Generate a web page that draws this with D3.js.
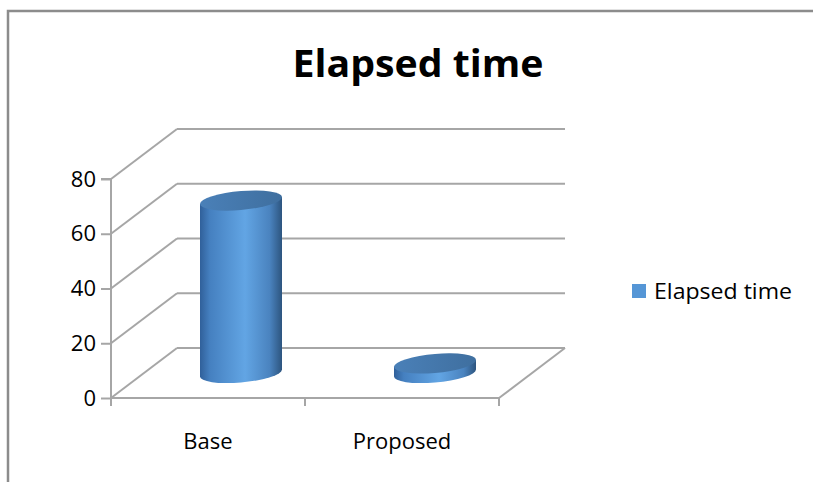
<!DOCTYPE html>
<html><head><meta charset="utf-8">
<script src="https://cdn.jsdelivr.net/npm/d3@7"></script>
<style>html,body{margin:0;padding:0;background:#fff;}svg{display:block;}</style>
</head><body>
<script>
const categories = ["Base", "Proposed"];
const values = [63, 3.5];
const seriesName = "Elapsed time";
const yTicks = [0, 20, 40, 60, 80];
const titleText = "Elapsed time";

const W = 813, H = 482;
const svg = d3.select("body").append("svg").attr("width", W).attr("height", H);
const defs = svg.append("defs");

// frame
svg.append("path").attr("d", `M8,${H+5} L8,11 L${W+5},11`).attr("fill","none").attr("stroke","#8c8c8c").attr("stroke-width",2.5);

// title
svg.append("text").attr("x", 418).attr("y", 77).attr("text-anchor","middle")
  .attr("font-family","'Open Sans', Lato, sans-serif").attr("font-weight","bold").attr("font-size",38)
  .attr("textLength",251).attr("lengthAdjust","spacingAndGlyphs").attr("fill","#000").text(titleText);

// geometry
const x0 = 111, x1 = 499;
const dx = 66, dy = -50;
const y = d3.scaleLinear().domain([0, 80]).range([398, 179]);
const x = d3.scaleBand().domain(categories).range([x0, x1]);
const grid = "#a6a6a6";
const g = svg.append("g");

// back gridlines + side diagonals
yTicks.forEach(t => {
  const yy = y(t);
  g.append("line").attr("x1", x0+dx).attr("x2", x1+dx).attr("y1", yy+dy).attr("y2", yy+dy).attr("stroke",grid).attr("stroke-width",2);
  g.append("line").attr("x1", x0).attr("x2", x0+dx).attr("y1", yy).attr("y2", yy+dy).attr("stroke",grid).attr("stroke-width",2);
});
// floor front edge and right diagonal
g.append("line").attr("x1", x0).attr("x2", x1).attr("y1", y(0)).attr("y2", y(0)).attr("stroke",grid).attr("stroke-width",2);
g.append("line").attr("x1", x1).attr("x2", x1+dx).attr("y1", y(0)).attr("y2", y(0)+dy).attr("stroke",grid).attr("stroke-width",2);

// y axis via d3
const yAxis = d3.axisLeft(y).tickValues(yTicks).tickSize(10).tickPadding(5);
const ya = svg.append("g").attr("transform", `translate(${x0},0)`).call(yAxis);
ya.select(".domain").attr("stroke",grid).attr("stroke-width",2).attr("d", `M-10,${y(80)}H0V${y(0)+7}`);
ya.selectAll(".tick line").attr("stroke",grid).attr("stroke-width",2);
ya.selectAll(".tick text").attr("font-family","'Open Sans', sans-serif").attr("font-size",22).attr("fill","#000");

// x axis ticks
const xAxis = d3.axisBottom(x).tickSize(0).tickPadding(35);
const xa = svg.append("g").attr("transform", `translate(0,${y(0)})`).call(xAxis);
xa.select(".domain").remove();
xa.selectAll(".tick text").attr("font-family","'Open Sans', sans-serif").attr("font-size",22).attr("fill","#000");
[x0, x0 + x.bandwidth(), x1].forEach(px => {
  svg.append("line").attr("x1",px).attr("x2",px).attr("y1",y(0)).attr("y2",y(0)+8).attr("stroke",grid).attr("stroke-width",2);
});

// gradients
const bodyGrad = defs.append("linearGradient").attr("id","body").attr("x1","0").attr("x2","1").attr("y1","0").attr("y2","0");
[["0%","#30609a"],["12%","#4580c0"],["55%","#62a5e4"],["85%","#4a83bf"],["100%","#2d557f"]].forEach(s=>bodyGrad.append("stop").attr("offset",s[0]).attr("stop-color",s[1]));
const topGrad = defs.append("linearGradient").attr("id","top").attr("x1","0").attr("x2","1").attr("y1","0").attr("y2","0");
[["0%","#4a80b8"],["100%","#3f6f9f"]].forEach(s=>topGrad.append("stop").attr("offset",s[0]).attr("stop-color",s[1]));

// cylinders
const rx = 41, ry = 9.5, skew = -4.8;
categories.forEach((c, i) => {
  const cx = x(c) + x.bandwidth()/2 + dx/2;
  const yb = y(0) + dy/2;
  const yt = y(values[i]) + dy/2;
  const h = yb - yt;
  const body = svg.append("g").attr("transform", `translate(${cx},${yt}) skewY(${skew})`);
  body.append("path")
    .attr("d", `M${-rx},0 L${-rx},${h} A${rx},${ry} 0 0 0 ${rx},${h} L${rx},0 Z`)
    .attr("fill","url(#body)");
  body.append("ellipse").attr("cx",0).attr("cy",0).attr("rx",rx).attr("ry",ry).attr("fill","url(#top)");
});

// legend
svg.append("rect").attr("x",632).attr("y",284).attr("width",14).attr("height",14).attr("fill","#5596d6");
svg.append("text").attr("x",654).attr("y",299).attr("font-family","'Open Sans', sans-serif").attr("font-size",22)
  .attr("textLength",138).attr("lengthAdjust","spacingAndGlyphs").attr("fill","#000").text(seriesName);
</script>
</body></html>
